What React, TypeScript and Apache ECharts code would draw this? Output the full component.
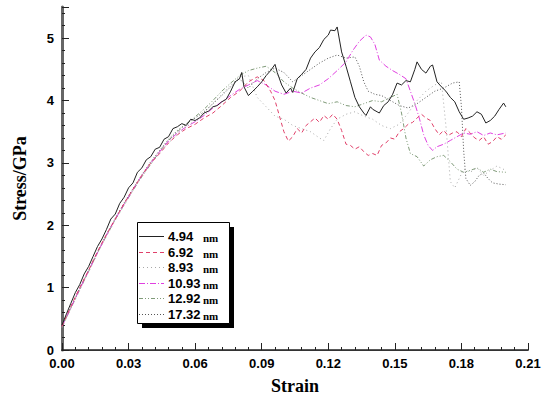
import React, { useEffect, useRef } from "react";
import * as echarts from "echarts";

const seriesNames = ["4.94", "6.92", "8.93", "10.93", "12.92", "17.32"];
const seriesColors = ["#222222", "#e0406a", "#a8a8a8", "#e040e0", "#7f9a78", "#555555"];
const xTicks = [0, 0.03, 0.06, 0.09, 0.12, 0.15, 0.18, 0.21];

const s494 = [[0,0.40],[0.002,0.58],[0.004,0.75],[0.006,0.92],[0.008,1.05],[0.010,1.22],[0.012,1.34],[0.014,1.50],[0.016,1.66],[0.018,1.78],[0.020,1.93],[0.022,2.10],[0.024,2.18],[0.026,2.35],[0.028,2.45],[0.030,2.60],[0.032,2.68],[0.034,2.85],[0.036,2.92],[0.038,3.05],[0.040,3.10],[0.042,3.22],[0.044,3.25],[0.046,3.38],[0.048,3.42],[0.050,3.55],[0.052,3.58],[0.054,3.63],[0.056,3.60],[0.058,3.70],[0.060,3.68],[0.062,3.72],[0.064,3.80],[0.066,3.83],[0.068,3.90],[0.070,3.92],[0.072,3.98],[0.074,4.02],[0.076,4.15],[0.078,4.30],[0.080,4.35],[0.081,4.45],[0.082,4.22],[0.084,4.08],[0.086,4.15],[0.088,4.22],[0.090,4.30],[0.092,4.40],[0.094,4.48],[0.096,4.58],[0.097,4.45],[0.099,4.25],[0.101,4.12],[0.103,4.20],[0.104,4.13],[0.106,4.35],[0.108,4.42],[0.110,4.50],[0.112,4.68],[0.114,4.78],[0.116,4.85],[0.118,4.98],[0.120,5.05],[0.121,5.13],[0.123,5.12],[0.124,5.18],[0.126,4.78],[0.128,4.55],[0.130,4.30],[0.132,4.05],[0.134,3.90],[0.136,3.80],[0.137,3.76],[0.139,3.90],[0.140,3.86],[0.142,3.82],[0.143,3.80],[0.145,3.92],[0.147,3.98],[0.149,4.10],[0.151,4.28],[0.153,4.25],[0.155,4.32],[0.157,4.30],[0.159,4.50],[0.160,4.62],[0.162,4.50],[0.164,4.44],[0.166,4.55],[0.167,4.57],[0.169,4.30],[0.171,4.22],[0.173,4.15],[0.175,4.05],[0.177,3.98],[0.179,3.82],[0.181,3.70],[0.183,3.72],[0.185,3.75],[0.187,3.82],[0.189,3.78],[0.191,3.64],[0.193,3.68],[0.195,3.75],[0.197,3.86],[0.199,3.96],[0.200,3.90]];

const s692 = [[0,0.38],[0.004,0.70],[0.008,1.00],[0.012,1.28],[0.016,1.58],[0.020,1.85],[0.024,2.10],[0.028,2.35],[0.032,2.58],[0.036,2.80],[0.040,3.00],[0.044,3.15],[0.048,3.32],[0.052,3.45],[0.056,3.55],[0.060,3.62],[0.064,3.72],[0.068,3.80],[0.072,3.92],[0.076,4.05],[0.080,4.15],[0.084,4.30],[0.088,4.38],[0.091,4.32],[0.094,4.15],[0.096,4.00],[0.098,3.75],[0.100,3.50],[0.102,3.35],[0.104,3.42],[0.106,3.55],[0.108,3.48],[0.110,3.60],[0.112,3.66],[0.114,3.72],[0.116,3.65],[0.118,3.76],[0.120,3.70],[0.122,3.78],[0.124,3.70],[0.126,3.52],[0.128,3.30],[0.130,3.28],[0.132,3.22],[0.134,3.26],[0.136,3.18],[0.138,3.12],[0.140,3.15],[0.142,3.12],[0.144,3.28],[0.146,3.32],[0.148,3.40],[0.150,3.38],[0.152,3.50],[0.154,3.55],[0.156,3.62],[0.158,3.65],[0.160,3.72],[0.162,3.78],[0.164,3.72],[0.166,3.68],[0.168,3.55],[0.170,3.45],[0.172,3.52],[0.174,3.44],[0.176,3.48],[0.178,3.50],[0.180,3.42],[0.182,3.55],[0.184,3.48],[0.186,3.40],[0.188,3.36],[0.190,3.42],[0.192,3.30],[0.194,3.34],[0.196,3.42],[0.198,3.38],[0.200,3.45]];

const s893 = [[0,0.36],[0.004,0.66],[0.008,0.96],[0.012,1.25],[0.016,1.55],[0.020,1.82],[0.024,2.08],[0.028,2.32],[0.032,2.56],[0.036,2.78],[0.040,2.98],[0.044,3.16],[0.048,3.32],[0.052,3.46],[0.056,3.58],[0.060,3.68],[0.064,3.80],[0.068,3.95],[0.072,4.10],[0.076,4.25],[0.080,4.38],[0.084,4.40],[0.088,4.05],[0.092,3.90],[0.096,3.75],[0.100,3.70],[0.104,3.60],[0.108,3.55],[0.112,3.50],[0.116,3.40],[0.118,3.36],[0.121,3.55],[0.124,3.70],[0.128,3.78],[0.132,3.82],[0.136,3.75],[0.140,3.70],[0.144,3.60],[0.148,3.55],[0.152,3.62],[0.156,3.80],[0.160,4.00],[0.164,4.15],[0.168,4.25],[0.171,4.30],[0.173,3.60],[0.175,2.70],[0.177,2.60],[0.179,2.75],[0.181,2.90],[0.184,2.85],[0.187,2.92],[0.190,2.80],[0.193,2.88],[0.196,2.95],[0.200,2.88]];

const s1093 = [[0,0.38],[0.004,0.68],[0.008,0.98],[0.012,1.27],[0.016,1.56],[0.020,1.84],[0.024,2.10],[0.028,2.34],[0.032,2.57],[0.036,2.80],[0.040,3.00],[0.044,3.18],[0.048,3.35],[0.052,3.48],[0.056,3.58],[0.060,3.66],[0.064,3.76],[0.068,3.88],[0.072,3.98],[0.076,4.08],[0.080,4.18],[0.084,4.25],[0.088,4.32],[0.092,4.25],[0.096,4.15],[0.100,4.10],[0.104,4.15],[0.108,4.12],[0.112,4.20],[0.116,4.25],[0.120,4.35],[0.124,4.48],[0.128,4.62],[0.131,4.80],[0.134,4.95],[0.137,5.05],[0.139,5.02],[0.141,4.90],[0.143,4.65],[0.146,4.55],[0.149,4.48],[0.152,4.42],[0.155,4.35],[0.157,4.15],[0.159,3.95],[0.161,3.72],[0.163,3.45],[0.165,3.28],[0.167,3.20],[0.169,3.26],[0.172,3.30],[0.175,3.36],[0.178,3.42],[0.181,3.48],[0.184,3.46],[0.187,3.50],[0.190,3.44],[0.193,3.48],[0.196,3.45],[0.200,3.48]];

const s1292 = [[0,0.37],[0.004,0.67],[0.008,0.97],[0.012,1.26],[0.016,1.56],[0.020,1.83],[0.024,2.09],[0.028,2.33],[0.032,2.56],[0.036,2.78],[0.040,2.98],[0.044,3.18],[0.048,3.36],[0.052,3.50],[0.056,3.62],[0.060,3.74],[0.064,3.86],[0.068,4.00],[0.072,4.15],[0.076,4.28],[0.080,4.40],[0.084,4.48],[0.088,4.52],[0.092,4.55],[0.096,4.45],[0.100,4.30],[0.104,4.20],[0.108,4.12],[0.112,4.05],[0.116,4.00],[0.120,3.95],[0.124,3.98],[0.128,3.92],[0.132,3.90],[0.136,3.95],[0.140,4.00],[0.144,3.98],[0.148,4.05],[0.151,4.10],[0.153,3.80],[0.155,3.40],[0.157,3.15],[0.160,3.10],[0.163,2.95],[0.166,3.05],[0.169,3.10],[0.172,3.12],[0.175,3.02],[0.178,2.90],[0.181,2.85],[0.184,2.88],[0.187,2.92],[0.190,2.85],[0.193,2.90],[0.196,2.86],[0.200,2.85]];

const s1732 = [[0,0.38],[0.004,0.69],[0.008,0.99],[0.012,1.28],[0.016,1.57],[0.020,1.85],[0.024,2.11],[0.028,2.36],[0.032,2.59],[0.036,2.81],[0.040,3.02],[0.044,3.20],[0.048,3.38],[0.052,3.52],[0.056,3.63],[0.060,3.72],[0.064,3.82],[0.068,3.95],[0.072,4.08],[0.076,4.22],[0.080,4.35],[0.084,4.20],[0.088,4.35],[0.092,4.45],[0.096,4.52],[0.100,4.45],[0.104,4.30],[0.108,4.40],[0.112,4.50],[0.116,4.60],[0.120,4.68],[0.124,4.73],[0.128,4.68],[0.132,4.70],[0.134,4.55],[0.136,4.30],[0.138,4.15],[0.141,4.10],[0.144,4.08],[0.148,4.00],[0.152,3.92],[0.156,3.88],[0.160,3.95],[0.164,4.05],[0.168,4.15],[0.172,4.20],[0.176,4.28],[0.179,4.30],[0.180,3.90],[0.181,3.20],[0.182,2.75],[0.184,2.64],[0.186,2.70],[0.188,2.80],[0.190,2.84],[0.192,2.75],[0.194,2.68],[0.197,2.66],[0.200,2.65]];

const seriesData = [s494, s692, s893, s1093, s1292, s1732];
const seriesDash: any[] = ["solid", [4, 3], [1, 3], [6, 2, 1, 2], [4, 2, 1, 2, 1, 2], [1, 2]];

export default function App() {
  const ref = useRef<HTMLDivElement>(null);
  useEffect(() => {
    if (!ref.current) return;
    const chart = echarts.init(ref.current, null, { renderer: "svg" });
    const numFont = "Liberation Sans";
    const serif = "Liberation Serif";
    const legendX = 137, legendY = 222, legendW = 92, legendH = 101;
    const rowY = (i: number) => Math.round(236 + i * 15.6) + 0.5;
    const legendEls: any[] = [
      { type: "rect", shape: { x: legendX + 5, y: legendY + 5, width: legendW, height: legendH }, style: { fill: "#000" }, z: 100 },
      { type: "rect", shape: { x: legendX + 0.5, y: legendY + 0.5, width: legendW, height: legendH }, style: { fill: "#fff", stroke: "#000", lineWidth: 1 }, z: 101 },
    ];
    seriesNames.forEach((n, i) => {
      legendEls.push({ type: "line", shape: { x1: legendX + 2, y1: rowY(i), x2: legendX + 27, y2: rowY(i) }, style: { stroke: seriesColors[i], lineWidth: 1, lineDash: seriesDash[i] === "solid" ? null : seriesDash[i] }, z: 102 });
      legendEls.push({ type: "text", x: 168, y: rowY(i), style: { text: n, font: `bold 13px ${numFont}`, fill: "#000", verticalAlign: "middle" }, z: 102 });
      legendEls.push({ type: "text", x: 203, y: rowY(i) + 1, style: { text: "nm", font: `bold 11px ${serif}`, fill: "#000", verticalAlign: "middle" }, z: 102 });
    });
    chart.setOption({
      animation: false,
      backgroundColor: "#fff",
      grid: { left: 62, right: 26, top: 7, bottom: 52 },
      xAxis: [
        {
          type: "value", min: 0, max: 0.21, interval: 0.03,
          name: "Strain", nameLocation: "middle", nameGap: 27,
          nameTextStyle: { fontFamily: serif, fontWeight: "bold", fontSize: 18, color: "#000" },
          axisLine: { show: true, onZero: false, lineStyle: { color: "#222", width: 1.5 } },
          axisTick: { show: true, inside: true, length: 7, lineStyle: { color: "#222" } },
          minorTick: { show: true, splitNumber: 5, length: 3, lineStyle: { color: "#222" } },
          splitLine: { show: false },
          axisLabel: { fontFamily: numFont, fontWeight: "bold", fontSize: 13, color: "#000", margin: 7, formatter: (v: number) => v.toFixed(2) },
          data: xTicks,
        },
        { type: "value", position: "top", min: 0, max: 0.21, axisLine: { show: true, lineStyle: { color: "#333", width: 1 } }, axisTick: { show: false }, axisLabel: { show: false }, splitLine: { show: false } },
      ],
      yAxis: [
        {
          type: "value", min: 0, max: 5.5, interval: 1,
          name: "Stress/GPa", nameLocation: "middle", nameGap: 33,
          nameTextStyle: { fontFamily: serif, fontWeight: "bold", fontSize: 18, color: "#000" },
          axisLine: { show: true, onZero: false, lineStyle: { color: "#222", width: 1.5 } },
          axisTick: { show: true, inside: true, length: 7, lineStyle: { color: "#222" } },
          minorTick: { show: true, splitNumber: 5, length: 3, lineStyle: { color: "#222" } },
          splitLine: { show: false },
          axisLabel: { fontFamily: numFont, fontWeight: "bold", fontSize: 13, color: "#000", margin: 8, showMaxLabel: false },
        },
        { type: "value", position: "right", min: 0, max: 5.5, axisLine: { show: true, lineStyle: { color: "#666", width: 3 } }, axisTick: { show: false }, axisLabel: { show: false }, splitLine: { show: false } },
      ],
      series: seriesData.map((d, i) => ({
        name: seriesNames[i],
        type: "line",
        data: d,
        showSymbol: false,
        symbol: "none",
        lineStyle: { color: seriesColors[i], width: 1, type: seriesDash[i] },
        z: 10 - i,
      })),
      graphic: legendEls,
    });
    return () => chart.dispose();
  }, []);
  return <div ref={ref} style={{ width: 554, height: 402, position: "absolute", left: 0, top: 0 }} />;
}
